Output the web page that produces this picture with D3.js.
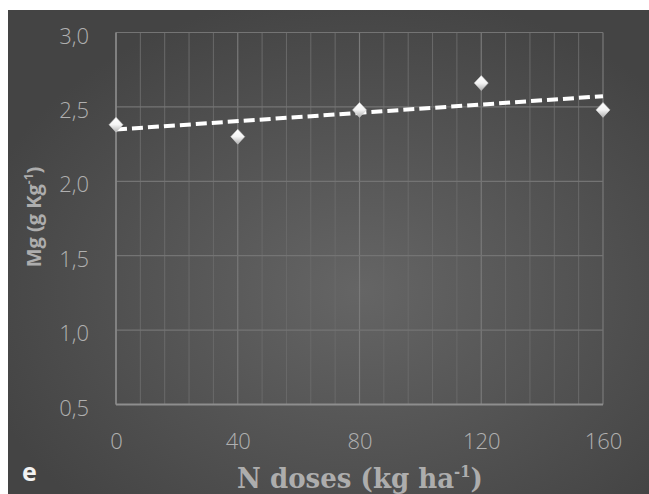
<!DOCTYPE html>
<html><head><meta charset="utf-8">
<script src="https://cdn.jsdelivr.net/npm/d3@7"></script>
<style>html,body{margin:0;padding:0;background:#fff;}svg{display:block;}</style>
</head><body>
<svg id="chart" width="649" height="494"></svg>
<script>
const doses = [0, 40, 80, 120, 160];
const mgValues = [2.38, 2.30, 2.48, 2.66, 2.48];
const xTicks = [0, 40, 80, 120, 160];
const yTicks = [0.5, 1.0, 1.5, 2.0, 2.5, 3.0];
const xTitle = "N doses (kg ha";
const yTitle = "Mg (g Kg";
const panelLabel = "e";

const svg = d3.select("#chart");
const W = 649, H = 494;
const defs = svg.append("defs");
const rg = defs.append("radialGradient").attr("id","bg").attr("cx","55%").attr("cy","58%").attr("r","62%");
rg.append("stop").attr("offset","0%").attr("stop-color","#656565");
rg.append("stop").attr("offset","100%").attr("stop-color","#444444");
const mg = defs.append("linearGradient").attr("id","mk").attr("x1","0").attr("y1","0").attr("x2","0").attr("y2","1");
mg.append("stop").attr("offset","0%").attr("stop-color","#ffffff");
mg.append("stop").attr("offset","50%").attr("stop-color","#f4f4f4");
mg.append("stop").attr("offset","100%").attr("stop-color","#b0b0b0");

svg.append("rect").attr("x",8).attr("y",10).attr("width",W-8).attr("height",H-10).attr("fill","url(#bg)");

const x = d3.scaleLinear().domain([0,160]).range([116,603]);
const y = d3.scaleLinear().domain([0.5,3.0]).range([404.5,32.5]);

// minor vertical gridlines
const minor = d3.range(0,161,8);
svg.append("g").selectAll("line").data(minor.filter(v=>v%40!==0)).join("line")
  .attr("x1",d=>x(d)).attr("x2",d=>x(d)).attr("y1",y(3.0)).attr("y2",y(0.5))
  .attr("stroke","#6a6a6a").attr("stroke-width",1);
// major vertical
svg.append("g").selectAll("line").data(xTicks).join("line")
  .attr("x1",d=>x(d)).attr("x2",d=>x(d)).attr("y1",y(3.0)).attr("y2",y(0.5))
  .attr("stroke","#7a7a7a").attr("stroke-width",1.2);
// horizontal gridlines
svg.append("g").selectAll("line").data(yTicks).join("line")
  .attr("x1",x(0)).attr("x2",x(160)).attr("y1",d=>y(d)).attr("y2",d=>y(d))
  .attr("stroke","#747474").attr("stroke-width",1.2);
// axes lines
svg.append("line").attr("x1",x(0)).attr("x2",x(0)).attr("y1",y(3.0)).attr("y2",y(0.5)).attr("stroke","#888").attr("stroke-width",1.6);
svg.append("line").attr("x1",x(0)).attr("x2",x(160)).attr("y1",y(0.5)).attr("y2",y(0.5)).attr("stroke","#8e8e8e").attr("stroke-width",2);

// axes via d3
const fmt = d=>d3.format(".1f")(d).replace(".",",");
const yAxis = svg.append("g").attr("transform",`translate(${x(0)},0)`)
  .call(d3.axisLeft(y).tickValues(yTicks).tickFormat(fmt).tickSize(0).tickPadding(27));
yAxis.select(".domain").remove();
yAxis.selectAll("text").attr("fill","#b0b0b0").attr("font-family","'Open Sans', sans-serif").attr("font-weight",300).attr("font-size",22).attr("dy","0.48em");
const xAxis = svg.append("g").attr("transform",`translate(0,${y(0.5)})`)
  .call(d3.axisBottom(x).tickValues(xTicks).tickFormat(d3.format("d")).tickSize(0).tickPadding(29));
xAxis.select(".domain").remove();
xAxis.selectAll("text").attr("fill","#b0b0b0").attr("font-family","'Open Sans', sans-serif").attr("font-weight",300).attr("font-size",22);

// trend line (least squares)
const mx = d3.mean(doses), my = d3.mean(mgValues);
const slope = d3.sum(doses.map((d,i)=>(d-mx)*(mgValues[i]-my))) / d3.sum(doses.map(d=>(d-mx)**2));
const icpt = my - slope*mx;
svg.append("line").attr("x1",x(0)).attr("x2",x(160)).attr("y1",y(icpt)).attr("y2",y(icpt+slope*160))
  .attr("stroke","#fff").attr("stroke-width",4).attr("stroke-dasharray","11,5");

// markers
svg.append("g").selectAll("path").data(doses).join("path")
  .attr("transform",(d,i)=>`translate(${x(d)},${y(mgValues[i])})`)
  .attr("d","M0,-7.5 L7,0 L0,7.5 L-7,0 Z")
  .attr("fill","url(#mk)").attr("stroke","#cfcfcf").attr("stroke-width",0.5);

// titles
const xt = svg.append("text").attr("x",0).attr("y",0).attr("text-anchor","middle")
  .attr("fill","#adadad").attr("font-family","'DejaVu Serif', serif").attr("font-weight","bold").attr("font-size",28);
xt.append("tspan").text(xTitle);
xt.append("tspan").attr("dy",-11).attr("font-size",16).text("-1");
xt.append("tspan").attr("dy",11).text(")");
const bw = xt.node().getBBox().width;
xt.attr("transform",`translate(360,488) scale(${246/bw},1)`);

const yt = svg.append("text").attr("transform","translate(41,217) rotate(-90)").attr("text-anchor","middle")
  .attr("fill","#adadad").attr("font-family","'Open Sans', sans-serif").attr("font-weight","bold").attr("font-size",20);
yt.append("tspan").text(yTitle);
yt.append("tspan").attr("dy",-8).attr("font-size",12).text("-1");
yt.append("tspan").attr("dy",8).text(")");

svg.append("text").attr("x",22).attr("y",481).attr("fill","#f2f2f2")
  .attr("font-family","'Open Sans', sans-serif").attr("font-weight","bold").attr("font-size",25).text(panelLabel);
</script>
</body></html>
